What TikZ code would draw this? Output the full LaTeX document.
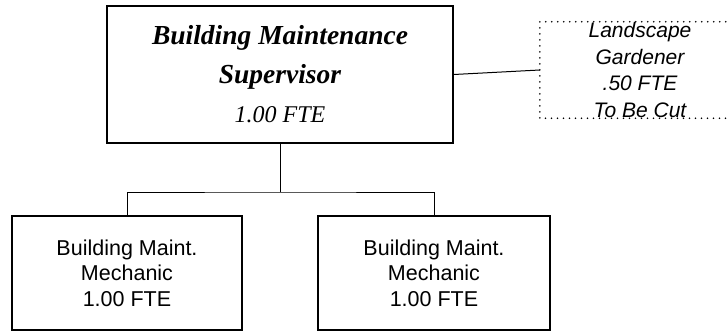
\documentclass[tikz,border=0pt]{standalone}
\usepackage{fontspec}
\setmainfont{Liberation Serif}
\newfontfamily\arialf{Liberation Sans}
\begin{document}
\begin{tikzpicture}[x=1pt,y=-1pt,
  supbox/.style={draw, line width=1.8pt, rectangle, minimum width=346pt, minimum height=137pt, align=center, inner sep=0pt,
     font=\itshape\fontsize{27.5}{39}\selectfont},
  mechbox/.style={draw, line width=1.3pt, rectangle, minimum height=114pt, align=center, inner sep=0pt,
     font=\arialf\fontsize{21.5}{25.5}\selectfont},
  gardbox/.style={rectangle, minimum width=195pt, minimum height=96pt, align=center, inner sep=0pt,
     font=\arialf\itshape\fontsize{21}{26.5}\selectfont},
  dotline/.style={line width=1.8pt, line cap=round, dash pattern=on 0pt off 6pt},
  conn/.style={line width=1pt}]
\useasboundingbox[fill=white] (0,0) rectangle (728,334);
\node[supbox] (sup) at (280,74.5) {\textbf{Building Maintenance}\\ \textbf{Supervisor}\\ \fontsize{24}{39}\selectfont 1.00 FTE};
\node[gardbox] (gard) at (640,70) {Landscape\\Gardener\\.50 FTE\\To Be Cut};
\draw[dotline] ([xshift=120pt]gard.north east) -- ([xshift=-2.5pt]gard.north west) -- ([xshift=-2.5pt]gard.south west) -- ([xshift=120pt]gard.south east);
\node[mechbox, minimum width=230pt] (m1) at (127,273) {Building Maint.\\Mechanic\\1.00 FTE};
\node[mechbox, minimum width=232pt] (m2) at (434,273) {Building Maint.\\Mechanic\\1.00 FTE};
\coordinate (bus) at (280,192);
\draw[conn] (sup.south) -- (bus);
\draw[conn] (m1.north) |- (bus) -| (m2.north);
\draw[conn] (sup.east) -- ([xshift=-2.5pt]gard.west);
\end{tikzpicture}
\end{document}
